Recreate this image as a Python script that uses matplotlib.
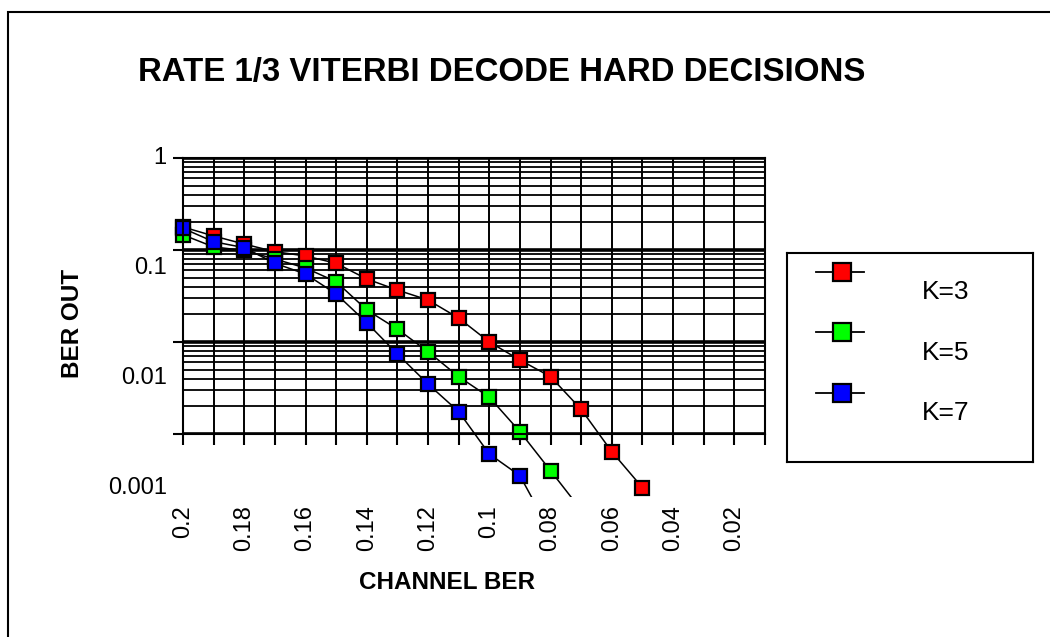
import matplotlib
matplotlib.use("Agg")
import matplotlib.pyplot as plt
from matplotlib.patches import Rectangle
from matplotlib.ticker import LogLocator, NullFormatter
import matplotlib.transforms as mtransforms
import numpy as np

plt.rcParams['font.family'] = ['Liberation Sans', 'DejaVu Sans']

# channel BER (x) and decoded BER for each constraint length
channel_ber = [0.20, 0.19, 0.18, 0.17, 0.16, 0.15, 0.14, 0.13, 0.12, 0.11,
               0.10, 0.09, 0.08, 0.07, 0.06, 0.05, 0.04]
ber_k3 = [0.178, 0.142, 0.116, 0.0959, 0.0861, 0.0717, 0.0484, 0.0367, 0.0286,
          0.0182, 0.0100, 0.00637, 0.00420, 0.00185, 6.42e-4, 2.61e-4]
ber_k5 = [0.146, 0.108, 0.0988, 0.0798, 0.0637, 0.0452, 0.0223, 0.0138, 0.00785,
          0.00420, 0.00251, 0.00106, 3.99e-4, 1.49e-4]
ber_k7 = [0.172, 0.123, 0.106, 0.0717, 0.0548, 0.0333, 0.0162, 0.00741, 0.00349,
          0.00175, 6.06e-4, 3.52e-4, 8.6e-5]

series_names = ['K=3', 'K=5', 'K=7']
series_colors = ['#ff0000', '#00ff00', '#0000ff']

xtick_major = [0.20, 0.18, 0.16, 0.14, 0.12, 0.10, 0.08, 0.06, 0.04, 0.02]
xtick_minor = [0.19, 0.17, 0.15, 0.13, 0.11, 0.09, 0.07, 0.05, 0.03, 0.01]
xtick_labels = ['0.2', '0.18', '0.16', '0.14', '0.12', '0.1', '0.08', '0.06', '0.04', '0.02']
ytick_values = [1, 0.1, 0.01, 0.001]
ytick_labels = ['1', '0.1', '0.01', '0.001']

W, H = 1050, 637
fig = plt.figure(figsize=(W / 100, H / 100), dpi=100)

# outer frame
fig.patches.append(Rectangle((8 / W, -0.1), 1.2, 1 - 12 / H + 0.1, transform=fig.transFigure,
                             fill=False, edgecolor='black', linewidth=1.5))

fig.text(502 / W, 1 - 73 / H, 'RATE 1/3 VITERBI DECODE HARD DECISIONS',
         ha='center', va='center', fontsize=23.8, fontweight='bold')

ax = fig.add_axes([183 / W, 1 - 434 / H, (765 - 183) / W, (434 - 158) / H])
ax.set_yscale('log')
ax.set_ylim(0.001, 1)
ax.set_xlim(0.2, 0.01)

ax.set_xticks(xtick_major)
ax.set_xticklabels(xtick_labels, rotation=90, fontsize=17)
ax.set_xticks(xtick_minor, minor=True)
ax.tick_params(axis='x', which='both', direction='out', length=8, width=1.5, pad=43)

ax.set_yticks(ytick_values)
ax.yaxis.set_minor_locator(LogLocator(base=10, subs=np.arange(2, 10)))
ax.yaxis.set_minor_formatter(NullFormatter())
ax.set_yticklabels([''] * len(ytick_values))
ax.tick_params(axis='y', which='major', direction='out', length=7, width=1.5)
ax.tick_params(axis='y', which='minor', length=0)

# y labels sit on a stretched log scale relative to the grid
label_tf = mtransforms.blended_transform_factory(ax.transAxes, ax.transData)
for v, lab in zip(ytick_values, ytick_labels):
    ax.text(-0.028, v ** (110 / 92), lab, transform=label_tf, ha='right', va='center',
            fontsize=17, clip_on=False)

ax.grid(True, axis='x', which='both', color='black', linewidth=1.4)
ax.grid(True, axis='y', which='major', color='black', linewidth=2.6)
ax.grid(True, axis='y', which='minor', color='black', linewidth=1.3)
for s in ax.spines.values():
    s.set_linewidth(1.5)

ax.set_xlabel('CHANNEL BER', fontsize=17.5, fontweight='bold')
ax.xaxis.set_label_coords((447 - 183) / 582, -(571 - 434) / 276)
ax.set_ylabel('BER OUT', fontsize=17.5, fontweight='bold')
ax.yaxis.set_label_coords((84 - 183) / 582, (434 - 323) / 276)

# series run below the plot area, cut at a band under the axis
clip_rect = Rectangle((-0.2, -0.228), 1.4, 1.3, transform=ax.transAxes, visible=False)
ax.add_patch(clip_rect)
for ys, name, col in zip([ber_k3, ber_k5, ber_k7], series_names, series_colors):
    line, = ax.plot(channel_ber[:len(ys)], ys, color='black', linewidth=1.1,
                    marker='s', markersize=10, markerfacecolor=col,
                    markeredgecolor='black', markeredgewidth=1.6, label=name,
                    clip_on=True)
    line.set_clip_path(clip_rect)

# legend panel
lax = fig.add_axes([787 / W, 1 - 462 / H, (1033 - 787) / W, (462 - 253) / H])
lax.set_xlim(0, 246)
lax.set_ylim(209, 0)
lax.set_xticks([])
lax.set_yticks([])
for s in lax.spines.values():
    s.set_linewidth(1.5)
for i, (name, col) in enumerate(zip(series_names, series_colors)):
    y0 = 18.5 + i * 60.6
    lax.plot([28.5, 76.5], [y0, y0], color='black', linewidth=1.3)
    lax.plot([54.5], [y0], marker='s', markersize=13, markerfacecolor=col,
             markeredgecolor='black', markeredgewidth=1.6)
    lax.text(135, y0 + 20.5, name, ha='left', va='center', fontsize=19)

fig.savefig('out.png', dpi=100)
